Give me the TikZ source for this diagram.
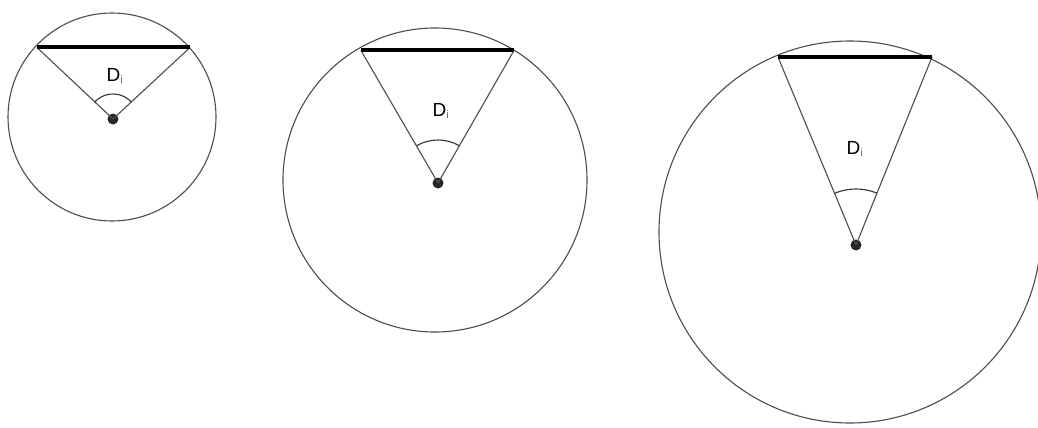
\documentclass[tikz,border=0pt]{standalone}
\usepackage{fontspec}
\setmainfont{Liberation Sans}
\usetikzlibrary{angles}
\tikzset{
  rim/.style={draw=black!70, line width=1.1pt},
  chord/.style={draw=black, line width=4pt},
  spoke/.style={draw=black!70, line width=1.1pt},
  hub/.style={circle, fill=black!85, inner sep=0pt, minimum size=11pt},
  lbl/.style={font=\fontsize{19}{19}\selectfont, inner sep=0pt},
  angarc/.style={draw=black!80, line width=1.1pt}
}
\newcommand{\Dlabel}{D\textsubscript{\color{black!60}\fontsize{11}{11}\selectfont i}}
\begin{document}
\begin{tikzpicture}[x=1pt,y=-1pt]
\useasboundingbox (0,0) rectangle (1038,428);
% circle 1
\draw[rim] (112,117) circle (104);
\coordinate (a1) at (37,47.5);
\coordinate (b1) at (190,47.5);
\node[hub] (o1) at (113,119) {};
\draw[spoke] (o1.center) -- (a1);
\draw[spoke] (o1.center) -- (b1);
\draw[chord] (a1) -- (b1);
\pic[angarc, angle radius=25pt] {angle = b1--o1--a1};
\node[lbl] (l1) at (115,76) {\Dlabel};
% circle 2
\draw[rim] (435,180) circle (152);
\coordinate (a2) at (361,50.5);
\coordinate (b2) at (514,50.5);
\node[hub] (o2) at (438,183) {};
\draw[spoke] (o2.center) -- (a2);
\draw[spoke] (o2.center) -- (b2);
\draw[chord] (a2) -- (b2);
\pic[angarc, angle radius=43pt] {angle = b2--o2--a2};
\node[lbl] (l2) at (441,111) {\Dlabel};
% circle 3
\draw[rim] (850,232) circle (191);
\coordinate (a3) at (778,57);
\coordinate (b3) at (932,57);
\node[hub] (o3) at (856,245) {};
\draw[spoke] (o3.center) -- (a3);
\draw[spoke] (o3.center) -- (b3);
\draw[chord] (a3) -- (b3);
\pic[angarc, angle radius=56pt] {angle = b3--o3--a3};
\node[lbl] (l3) at (855,149) {\Dlabel};
\end{tikzpicture}
\end{document}
